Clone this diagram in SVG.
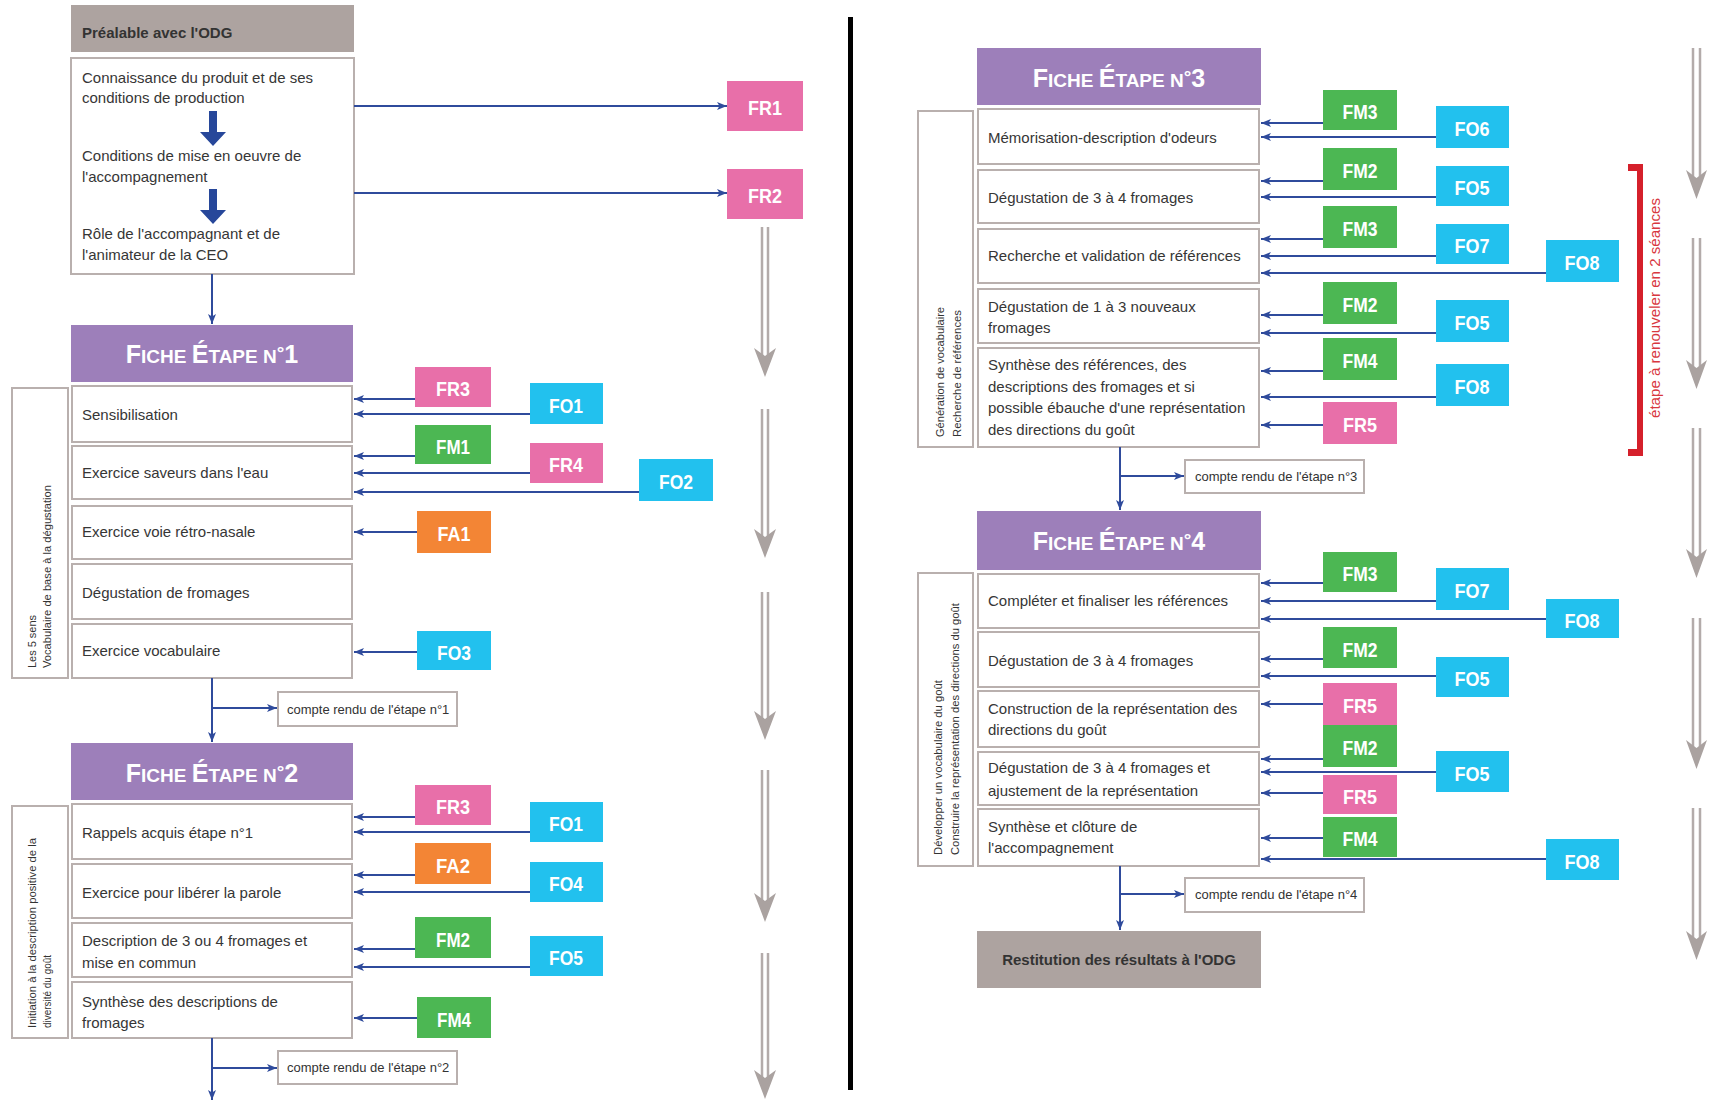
<svg xmlns="http://www.w3.org/2000/svg" width="1712" height="1101" viewBox="0 0 1712 1101">
  <defs>
    <style>
      text { font-family: "Liberation Sans", Arial, sans-serif; }
      .row { fill: #ffffff; stroke: #b9b0ae; stroke-width: 2; }
      .side { fill: #ffffff; stroke: #b9b0ae; stroke-width: 2; }
      .hdr { fill: #9d7fba; }
      .grey { fill: #ada3a0; }
      .t { font-size: 15px; fill: #363636; }
      .tb { font-size: 15px; font-weight: bold; fill: #333333; }
      .st { font-size: 10.5px; fill: #333333; }
      .cr { font-size: 13px; fill: #333333; }
      .ht { font-size: 19px; font-weight: bold; fill: #ffffff; text-anchor: middle; }
      .ht .big { font-size: 25px; }
      .lt { font-size: 21px; font-weight: bold; fill: #ffffff; text-anchor: middle; }
      .pk { fill: #e86fa9; }
      .gr { fill: #4cb753; }
      .cy { fill: #22c1ee; }
      .or { fill: #f38535; }
      .cnh { stroke: #2f4b9c; stroke-width: 2; fill: none; marker-end: url(#ah); }
      .fat { fill: #27479a; }
      .gline { stroke: #b3abaa; stroke-width: 2.5; fill: none; }
      .ghead { fill: #aaa2a0; }
    </style>
    <marker id="ah" markerUnits="userSpaceOnUse" markerWidth="10" markerHeight="8" refX="10" refY="4" orient="auto">
      <path d="M0,0 L10,4 L0,8 L2.5,4 Z" fill="#2f4b9c"/>
    </marker>
  </defs>

  <rect width="1712" height="1101" fill="#ffffff"/>

  <!-- column separator -->
  <rect id="separator" x="848" y="17" width="5" height="1073" fill="#000000"/>

  <!-- ============ LEFT COLUMN ============ -->
  <g id="prealable-titre">
    <rect class="grey" x="71" y="5" width="283" height="47"/>
    <text class="tb" x="82" y="38">Préalable avec l'ODG</text>
  </g>
  <g id="prealable">
    <rect class="row" x="71" y="58" width="283" height="216"/>
    <text class="t" x="82" y="83">Connaissance du produit et de ses</text>
    <text class="t" x="82" y="103">conditions de production</text>
    <path class="fat" d="M209,111 H217 V132 H226 L213,146 L200,132 H209 Z"/>
    <text class="t" x="82" y="161">Conditions de mise en oeuvre de</text>
    <text class="t" x="82" y="182">l'accompagnement</text>
    <path class="fat" d="M209,189 H217 V210 H226 L213,224 L200,210 H209 Z"/>
    <text class="t" x="82" y="239">Rôle de l'accompagnant et de</text>
    <text class="t" x="82" y="260">l'animateur de la CEO</text>
  </g>
  <g id="fr1"><rect class="pk" x="727" y="81" width="76" height="50"/><text class="lt" x="765" y="115" textLength="34" lengthAdjust="spacingAndGlyphs">FR1</text></g>
  <g id="fr2"><rect class="pk" x="727" y="169" width="76" height="50"/><text class="lt" x="765" y="203" textLength="34" lengthAdjust="spacingAndGlyphs">FR2</text></g>

  <!-- Fiche étape 1 -->
  <g id="etape1-titre">
    <rect class="hdr" x="71" y="325" width="282" height="57"/>
    <text class="ht" x="212" y="363"><tspan class="big">F</tspan>ICHE <tspan class="big">É</tspan>TAPE N<tspan dy="-4">°</tspan><tspan class="big" dy="4">1</tspan></text>
  </g>
  <g id="etape1-theme">
    <rect class="side" x="12" y="388" width="56" height="290"/>
    <text class="st" transform="translate(36,668) rotate(-90)" textLength="53" lengthAdjust="spacingAndGlyphs">Les 5 sens</text>
    <text class="st" transform="translate(51,668) rotate(-90)" textLength="183" lengthAdjust="spacingAndGlyphs">Vocabulaire de base à la dégustation</text>
  </g>
  <g id="e1-sensibilisation"><rect class="row" x="72" y="386" width="280" height="56"/><text class="t" x="82" y="420">Sensibilisation</text></g>
  <g id="e1-saveurs"><rect class="row" x="72" y="446" width="280" height="53"/><text class="t" x="82" y="478">Exercice saveurs dans l'eau</text></g>
  <g id="e1-retronasale"><rect class="row" x="72" y="506" width="280" height="53"/><text class="t" x="82" y="537">Exercice voie rétro-nasale</text></g>
  <g id="e1-degustation"><rect class="row" x="72" y="564" width="280" height="55"/><text class="t" x="82" y="598">Dégustation de fromages</text></g>
  <g id="e1-vocabulaire"><rect class="row" x="72" y="624" width="280" height="54"/><text class="t" x="82" y="656">Exercice vocabulaire</text></g>

  <g id="e1-fr3"><rect class="pk" x="415" y="367" width="76" height="40"/><text class="lt" x="453" y="396" textLength="34" lengthAdjust="spacingAndGlyphs">FR3</text></g>
  <g id="e1-fo1"><rect class="cy" x="530" y="383" width="73" height="41"/><text class="lt" x="566" y="413" textLength="34" lengthAdjust="spacingAndGlyphs">FO1</text></g>
  <g id="e1-fm1"><rect class="gr" x="415" y="425" width="76" height="39"/><text class="lt" x="453" y="454" textLength="34" lengthAdjust="spacingAndGlyphs">FM1</text></g>
  <g id="e1-fr4"><rect class="pk" x="530" y="443" width="73" height="40"/><text class="lt" x="566" y="472" textLength="34" lengthAdjust="spacingAndGlyphs">FR4</text></g>
  <g id="e1-fo2"><rect class="cy" x="639" y="459" width="74" height="42"/><text class="lt" x="676" y="489" textLength="34" lengthAdjust="spacingAndGlyphs">FO2</text></g>
  <g id="e1-fa1"><rect class="or" x="417" y="511" width="74" height="42"/><text class="lt" x="454" y="541" textLength="33" lengthAdjust="spacingAndGlyphs">FA1</text></g>
  <g id="e1-fo3"><rect class="cy" x="417" y="631" width="74" height="39"/><text class="lt" x="454" y="660" textLength="34" lengthAdjust="spacingAndGlyphs">FO3</text></g>

  <g id="cr-etape1">
    <rect class="row" x="278" y="692" width="179" height="34"/>
    <text class="cr" x="287" y="714">compte rendu de l'étape n°1</text>
  </g>

  <!-- Fiche étape 2 -->
  <g id="etape2-titre">
    <rect class="hdr" x="71" y="743" width="282" height="57"/>
    <text class="ht" x="212" y="782"><tspan class="big">F</tspan>ICHE <tspan class="big">É</tspan>TAPE N<tspan dy="-4">°</tspan><tspan class="big" dy="4">2</tspan></text>
  </g>
  <g id="etape2-theme">
    <rect class="side" x="12" y="806" width="56" height="232"/>
    <text class="st" transform="translate(36,1028) rotate(-90)" textLength="190" lengthAdjust="spacingAndGlyphs">Initiation à la description positive de la</text>
    <text class="st" transform="translate(51,1028) rotate(-90)" textLength="73" lengthAdjust="spacingAndGlyphs">diversité du goût</text>
  </g>
  <g id="e2-rappels"><rect class="row" x="72" y="804" width="280" height="55"/><text class="t" x="82" y="838">Rappels acquis étape n°1</text></g>
  <g id="e2-parole"><rect class="row" x="72" y="864" width="280" height="54"/><text class="t" x="82" y="898">Exercice pour libérer la parole</text></g>
  <g id="e2-description"><rect class="row" x="72" y="923" width="280" height="54"/><text class="t" x="82" y="946">Description de 3 ou 4 fromages et</text><text class="t" x="82" y="968">mise en commun</text></g>
  <g id="e2-synthese"><rect class="row" x="72" y="982" width="280" height="56"/><text class="t" x="82" y="1007">Synthèse des descriptions de</text><text class="t" x="82" y="1028">fromages</text></g>

  <g id="e2-fr3"><rect class="pk" x="415" y="785" width="76" height="40"/><text class="lt" x="453" y="814" textLength="34" lengthAdjust="spacingAndGlyphs">FR3</text></g>
  <g id="e2-fo1"><rect class="cy" x="530" y="802" width="73" height="40"/><text class="lt" x="566" y="831" textLength="34" lengthAdjust="spacingAndGlyphs">FO1</text></g>
  <g id="e2-fa2"><rect class="or" x="415" y="843" width="76" height="41"/><text class="lt" x="453" y="873" textLength="34" lengthAdjust="spacingAndGlyphs">FA2</text></g>
  <g id="e2-fo4"><rect class="cy" x="530" y="862" width="73" height="40"/><text class="lt" x="566" y="891" textLength="34" lengthAdjust="spacingAndGlyphs">FO4</text></g>
  <g id="e2-fm2"><rect class="gr" x="415" y="917" width="76" height="41"/><text class="lt" x="453" y="947" textLength="34" lengthAdjust="spacingAndGlyphs">FM2</text></g>
  <g id="e2-fo5"><rect class="cy" x="530" y="936" width="73" height="40"/><text class="lt" x="566" y="965" textLength="34" lengthAdjust="spacingAndGlyphs">FO5</text></g>
  <g id="e2-fm4"><rect class="gr" x="417" y="997" width="74" height="41"/><text class="lt" x="454" y="1027" textLength="34" lengthAdjust="spacingAndGlyphs">FM4</text></g>

  <g id="cr-etape2">
    <rect class="row" x="278" y="1051" width="179" height="33"/>
    <text class="cr" x="287" y="1072">compte rendu de l'étape n°2</text>
  </g>

  <!-- ============ RIGHT COLUMN ============ -->
  <!-- Fiche étape 3 -->
  <g id="etape3-titre">
    <rect class="hdr" x="977" y="48" width="284" height="57"/>
    <text class="ht" x="1119" y="87"><tspan class="big">F</tspan>ICHE <tspan class="big">É</tspan>TAPE N<tspan dy="-4">°</tspan><tspan class="big" dy="4">3</tspan></text>
  </g>
  <g id="etape3-theme">
    <rect class="side" x="918" y="111" width="55" height="336"/>
    <text class="st" transform="translate(944,437) rotate(-90)" textLength="130" lengthAdjust="spacingAndGlyphs">Génération de vocabulaire</text>
    <text class="st" transform="translate(961,437) rotate(-90)" textLength="127" lengthAdjust="spacingAndGlyphs">Recherche de références</text>
  </g>
  <g id="e3-memorisation"><rect class="row" x="978" y="109" width="281" height="55"/><text class="t" x="988" y="143">Mémorisation-description d'odeurs</text></g>
  <g id="e3-degustation"><rect class="row" x="978" y="170" width="281" height="53"/><text class="t" x="988" y="203">Dégustation de 3 à 4 fromages</text></g>
  <g id="e3-recherche"><rect class="row" x="978" y="229" width="281" height="54"/><text class="t" x="988" y="261">Recherche et validation de références</text></g>
  <g id="e3-nouveaux"><rect class="row" x="978" y="289" width="281" height="54"/><text class="t" x="988" y="312">Dégustation de 1 à 3 nouveaux</text><text class="t" x="988" y="333">fromages</text></g>
  <g id="e3-synthese"><rect class="row" x="978" y="348" width="281" height="99"/>
    <text class="t" x="988" y="370">Synthèse des références, des</text>
    <text class="t" x="988" y="392">descriptions des fromages et si</text>
    <text class="t" x="988" y="413">possible ébauche d'une représentation</text>
    <text class="t" x="988" y="435">des directions du goût</text>
  </g>

  <g id="e3-fm3a"><rect class="gr" x="1323" y="90" width="74" height="40"/><text class="lt" x="1360" y="119" textLength="35" lengthAdjust="spacingAndGlyphs">FM3</text></g>
  <g id="e3-fo6"><rect class="cy" x="1436" y="106" width="73" height="42"/><text class="lt" x="1472" y="136" textLength="35" lengthAdjust="spacingAndGlyphs">FO6</text></g>
  <g id="e3-fm2a"><rect class="gr" x="1323" y="148" width="74" height="42"/><text class="lt" x="1360" y="178" textLength="35" lengthAdjust="spacingAndGlyphs">FM2</text></g>
  <g id="e3-fo5a"><rect class="cy" x="1436" y="166" width="73" height="40"/><text class="lt" x="1472" y="195" textLength="35" lengthAdjust="spacingAndGlyphs">FO5</text></g>
  <g id="e3-fm3b"><rect class="gr" x="1323" y="206" width="74" height="42"/><text class="lt" x="1360" y="236" textLength="35" lengthAdjust="spacingAndGlyphs">FM3</text></g>
  <g id="e3-fo7"><rect class="cy" x="1436" y="224" width="73" height="40"/><text class="lt" x="1472" y="253" textLength="35" lengthAdjust="spacingAndGlyphs">FO7</text></g>
  <g id="e3-fo8a"><rect class="cy" x="1546" y="240" width="73" height="42"/><text class="lt" x="1582" y="270" textLength="35" lengthAdjust="spacingAndGlyphs">FO8</text></g>
  <g id="e3-fm2b"><rect class="gr" x="1323" y="282" width="74" height="42"/><text class="lt" x="1360" y="312" textLength="35" lengthAdjust="spacingAndGlyphs">FM2</text></g>
  <g id="e3-fo5b"><rect class="cy" x="1436" y="300" width="73" height="42"/><text class="lt" x="1472" y="330" textLength="35" lengthAdjust="spacingAndGlyphs">FO5</text></g>
  <g id="e3-fm4"><rect class="gr" x="1323" y="338" width="74" height="42"/><text class="lt" x="1360" y="368" textLength="35" lengthAdjust="spacingAndGlyphs">FM4</text></g>
  <g id="e3-fo8b"><rect class="cy" x="1436" y="364" width="73" height="42"/><text class="lt" x="1472" y="394" textLength="35" lengthAdjust="spacingAndGlyphs">FO8</text></g>
  <g id="e3-fr5"><rect class="pk" x="1323" y="402" width="74" height="42"/><text class="lt" x="1360" y="432" textLength="34" lengthAdjust="spacingAndGlyphs">FR5</text></g>

  <!-- two-session bracket -->
  <g id="seances">
    <path d="M1628,164 H1643 V456 H1628 V449 H1637 V171 H1628 Z" fill="#d5202b"/>
    <text transform="translate(1660,418) rotate(-90)" font-size="15" fill="#d8383f" textLength="220" lengthAdjust="spacingAndGlyphs">étape à renouveler en 2 séances</text>
  </g>

  <g id="cr-etape3">
    <rect class="row" x="1185" y="460" width="179" height="33"/>
    <text class="cr" x="1195" y="481">compte rendu de l'étape n°3</text>
  </g>

  <!-- Fiche étape 4 -->
  <g id="etape4-titre">
    <rect class="hdr" x="977" y="511" width="284" height="59"/>
    <text class="ht" x="1119" y="550"><tspan class="big">F</tspan>ICHE <tspan class="big">É</tspan>TAPE N<tspan dy="-4">°</tspan><tspan class="big" dy="4">4</tspan></text>
  </g>
  <g id="etape4-theme">
    <rect class="side" x="918" y="573" width="55" height="293"/>
    <text class="st" transform="translate(942,855) rotate(-90)" textLength="175" lengthAdjust="spacingAndGlyphs">Développer un vocabulaire du goût</text>
    <text class="st" transform="translate(959,855) rotate(-90)" textLength="252" lengthAdjust="spacingAndGlyphs">Construire la représentation des directions du goût</text>
  </g>
  <g id="e4-completer"><rect class="row" x="978" y="574" width="281" height="54"/><text class="t" x="988" y="606">Compléter et finaliser les références</text></g>
  <g id="e4-degustation"><rect class="row" x="978" y="632" width="281" height="55"/><text class="t" x="988" y="666">Dégustation de 3 à 4 fromages</text></g>
  <g id="e4-construction"><rect class="row" x="978" y="691" width="281" height="56"/><text class="t" x="988" y="714">Construction de la représentation des</text><text class="t" x="988" y="735">directions du goût</text></g>
  <g id="e4-ajustement"><rect class="row" x="978" y="752" width="281" height="53"/><text class="t" x="988" y="773">Dégustation de 3 à 4 fromages et</text><text class="t" x="988" y="796">ajustement de la représentation</text></g>
  <g id="e4-cloture"><rect class="row" x="978" y="809" width="281" height="57"/><text class="t" x="988" y="832">Synthèse et clôture de</text><text class="t" x="988" y="853">l'accompagnement</text></g>

  <g id="e4-fm3"><rect class="gr" x="1323" y="552" width="74" height="40"/><text class="lt" x="1360" y="581" textLength="35" lengthAdjust="spacingAndGlyphs">FM3</text></g>
  <g id="e4-fo7"><rect class="cy" x="1436" y="568" width="73" height="42"/><text class="lt" x="1472" y="598" textLength="35" lengthAdjust="spacingAndGlyphs">FO7</text></g>
  <g id="e4-fo8a"><rect class="cy" x="1546" y="599" width="73" height="39"/><text class="lt" x="1582" y="628" textLength="35" lengthAdjust="spacingAndGlyphs">FO8</text></g>
  <g id="e4-fm2a"><rect class="gr" x="1323" y="627" width="74" height="41"/><text class="lt" x="1360" y="657" textLength="35" lengthAdjust="spacingAndGlyphs">FM2</text></g>
  <g id="e4-fo5a"><rect class="cy" x="1436" y="657" width="73" height="40"/><text class="lt" x="1472" y="686" textLength="35" lengthAdjust="spacingAndGlyphs">FO5</text></g>
  <g id="e4-fr5a"><rect class="pk" x="1323" y="683" width="74" height="42"/><text class="lt" x="1360" y="713" textLength="34" lengthAdjust="spacingAndGlyphs">FR5</text></g>
  <g id="e4-fm2b"><rect class="gr" x="1323" y="725" width="74" height="42"/><text class="lt" x="1360" y="755" textLength="35" lengthAdjust="spacingAndGlyphs">FM2</text></g>
  <g id="e4-fo5b"><rect class="cy" x="1436" y="751" width="73" height="41"/><text class="lt" x="1472" y="781" textLength="35" lengthAdjust="spacingAndGlyphs">FO5</text></g>
  <g id="e4-fr5b"><rect class="pk" x="1323" y="775" width="74" height="39"/><text class="lt" x="1360" y="804" textLength="34" lengthAdjust="spacingAndGlyphs">FR5</text></g>
  <g id="e4-fm4"><rect class="gr" x="1323" y="817" width="74" height="40"/><text class="lt" x="1360" y="846" textLength="35" lengthAdjust="spacingAndGlyphs">FM4</text></g>
  <g id="e4-fo8b"><rect class="cy" x="1546" y="839" width="73" height="41"/><text class="lt" x="1582" y="869" textLength="35" lengthAdjust="spacingAndGlyphs">FO8</text></g>

  <g id="cr-etape4">
    <rect class="row" x="1185" y="878" width="179" height="34"/>
    <text class="cr" x="1195" y="899">compte rendu de l'étape n°4</text>
  </g>

  <g id="restitution">
    <rect class="grey" x="977" y="931" width="284" height="57"/>
    <text class="tb" x="1119" y="965" text-anchor="middle">Restitution des résultats à l'ODG</text>
  </g>

  <!-- ============ CONNECTORS ============ -->
  <g id="connectors">
    <!-- préalable -> FR1 / FR2 -->
    <path class="cnh" d="M354,106 H727"/>
    <path class="cnh" d="M354,193 H727"/>
    <!-- main flow, left column -->
    <path class="cnh" d="M212,274 V324"/>
    <path class="cnh" d="M212,678 V742"/>
    <path class="cnh" d="M212,708 H277"/>
    <path class="cnh" d="M212,1038 V1100"/>
    <path class="cnh" d="M212,1068 H277"/>
    <!-- main flow, right column -->
    <path class="cnh" d="M1120,447 V510"/>
    <path class="cnh" d="M1120,476 H1184"/>
    <path class="cnh" d="M1120,866 V930"/>
    <path class="cnh" d="M1120,894 H1184"/>

    <!-- étape 1 resources -->
    <path class="cnh" d="M415,399 H354"/>
    <path class="cnh" d="M530,414 H354"/>
    <path class="cnh" d="M415,456 H354"/>
    <path class="cnh" d="M530,473 H354"/>
    <path class="cnh" d="M639,492 H354"/>
    <path class="cnh" d="M417,532 H354"/>
    <path class="cnh" d="M417,652 H354"/>

    <!-- étape 2 resources -->
    <path class="cnh" d="M415,817 H354"/>
    <path class="cnh" d="M530,832 H354"/>
    <path class="cnh" d="M415,875 H354"/>
    <path class="cnh" d="M530,892 H354"/>
    <path class="cnh" d="M415,949 H354"/>
    <path class="cnh" d="M530,967 H354"/>
    <path class="cnh" d="M417,1018 H354"/>

    <!-- étape 3 resources -->
    <path class="cnh" d="M1323,123 H1261"/>
    <path class="cnh" d="M1436,137 H1261"/>
    <path class="cnh" d="M1323,181 H1261"/>
    <path class="cnh" d="M1436,197 H1261"/>
    <path class="cnh" d="M1323,239 H1261"/>
    <path class="cnh" d="M1436,256 H1261"/>
    <path class="cnh" d="M1546,273 H1261"/>
    <path class="cnh" d="M1323,315 H1261"/>
    <path class="cnh" d="M1436,333 H1261"/>
    <path class="cnh" d="M1323,371 H1261"/>
    <path class="cnh" d="M1436,397 H1261"/>
    <path class="cnh" d="M1323,425 H1261"/>

    <!-- étape 4 resources -->
    <path class="cnh" d="M1323,583 H1261"/>
    <path class="cnh" d="M1436,601 H1261"/>
    <path class="cnh" d="M1546,619 H1261"/>
    <path class="cnh" d="M1323,659 H1261"/>
    <path class="cnh" d="M1436,676 H1261"/>
    <path class="cnh" d="M1323,704 H1261"/>
    <path class="cnh" d="M1323,759 H1261"/>
    <path class="cnh" d="M1436,772 H1261"/>
    <path class="cnh" d="M1323,793 H1261"/>
    <path class="cnh" d="M1323,838 H1261"/>
    <path class="cnh" d="M1546,859 H1261"/>
  </g>

  <!-- ============ TIMELINE ARROWS ============ -->
  <g id="timeline-left">
    <path class="gline" d="M762,227 V356 M768,227 V356"/>
    <path class="ghead" d="M754,348 L765,377 L776,348 L765,356 Z"/>
    <path class="gline" d="M762,409 V537 M768,409 V537"/>
    <path class="ghead" d="M754,529 L765,558 L776,529 L765,537 Z"/>
    <path class="gline" d="M762,592 V719 M768,592 V719"/>
    <path class="ghead" d="M754,711 L765,740 L776,711 L765,719 Z"/>
    <path class="gline" d="M762,770 V901 M768,770 V901"/>
    <path class="ghead" d="M754,893 L765,922 L776,893 L765,901 Z"/>
    <path class="gline" d="M762,953 V1078 M768,953 V1078"/>
    <path class="ghead" d="M754,1070 L765,1099 L776,1070 L765,1078 Z"/>
  </g>
  <g id="timeline-right">
    <path class="gline" d="M1693,48 V178 M1700,48 V178"/>
    <path class="ghead" d="M1686,170 L1696.5,199 L1707,170 L1696.5,178 Z"/>
    <path class="gline" d="M1693,238 V368 M1700,238 V368"/>
    <path class="ghead" d="M1686,360 L1696.5,389 L1707,360 L1696.5,368 Z"/>
    <path class="gline" d="M1693,428 V557 M1700,428 V557"/>
    <path class="ghead" d="M1686,549 L1696.5,578 L1707,549 L1696.5,557 Z"/>
    <path class="gline" d="M1693,618 V748 M1700,618 V748"/>
    <path class="ghead" d="M1686,740 L1696.5,769 L1707,740 L1696.5,748 Z"/>
    <path class="gline" d="M1693,808 V939 M1700,808 V939"/>
    <path class="ghead" d="M1686,931 L1696.5,960 L1707,931 L1696.5,939 Z"/>
  </g>
</svg>
